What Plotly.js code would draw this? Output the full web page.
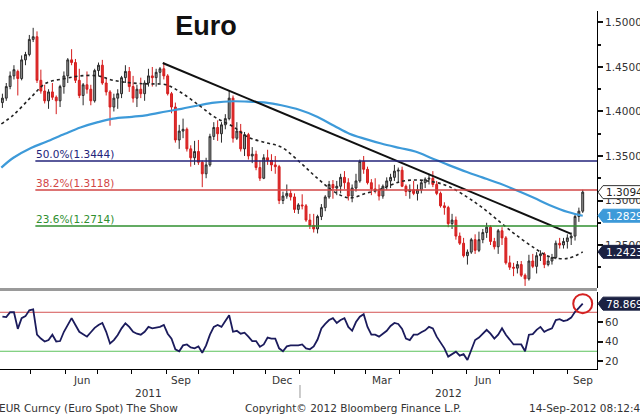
<!DOCTYPE html>
<html><head><meta charset="utf-8">
<script src="https://cdn.plot.ly/plotly-3.0.1.min.js"></script>
<style>html,body{margin:0;padding:0;background:#fff;}#chart{width:640px;height:420px;}</style>
</head><body><div id="chart"></div>
<script>
// ---- data (half-week candles, Mon-Wed / Thu-Fri) ----
const firstMonday = '2011-04-04';
const weekCount = 76;
const open = [
1.410,1.415,1.428,1.440,1.445,1.437,1.458,1.464,1.481,1.484,
1.435,1.423,1.412,1.422,1.416,1.412,1.428,1.440,1.458,1.455,
1.435,1.418,1.430,1.425,1.412,1.446,1.452,1.432,1.422,1.405,
1.415,1.420,1.438,1.445,1.428,1.415,1.425,1.420,1.432,1.440,
1.438,1.444,1.448,1.440,1.420,1.405,1.368,1.378,1.380,1.358,
1.348,1.355,1.343,1.330,1.340,1.372,1.382,1.375,1.385,1.392,
1.415,1.370,1.378,1.358,1.374,1.350,1.352,1.337,1.325,1.348,
1.345,1.340,1.338,1.300,1.305,1.308,1.304,1.290,1.295,1.294,
1.278,1.272,1.268,1.282,1.292,1.304,1.318,1.314,1.316,1.326,
1.320,1.305,1.314,1.322,1.344,1.335,1.320,1.313,1.312,1.305,
1.316,1.322,1.326,1.333,1.334,1.316,1.310,1.312,1.308,1.312,
1.320,1.324,1.325,1.318,1.308,1.294,1.292,1.274,1.278,1.260,
1.252,1.238,1.242,1.256,1.244,1.256,1.264,1.270,1.254,1.248,
1.266,1.258,1.230,1.225,1.224,1.228,1.216,1.212,1.232,1.226,
1.238,1.240,1.228,1.232,1.236,1.252,1.250,1.254,1.258,1.260,
1.282,1.288];
const high = [
1.420,1.432,1.445,1.452,1.447,1.463,1.467,1.486,1.494,1.490,
1.447,1.430,1.425,1.432,1.418,1.430,1.445,1.460,1.470,1.459,
1.448,1.432,1.445,1.430,1.448,1.455,1.458,1.438,1.424,1.420,
1.425,1.440,1.452,1.450,1.440,1.430,1.438,1.435,1.448,1.450,
1.448,1.450,1.455,1.442,1.422,1.410,1.385,1.392,1.382,1.362,
1.367,1.368,1.345,1.348,1.375,1.388,1.390,1.388,1.397,1.424,
1.418,1.388,1.386,1.377,1.376,1.360,1.356,1.345,1.352,1.357,
1.352,1.350,1.340,1.310,1.318,1.312,1.308,1.297,1.307,1.296,
1.285,1.285,1.284,1.296,1.306,1.322,1.323,1.322,1.330,1.333,
1.325,1.318,1.330,1.346,1.350,1.338,1.324,1.325,1.318,1.318,
1.326,1.330,1.340,1.337,1.338,1.318,1.318,1.322,1.318,1.322,
1.326,1.330,1.333,1.322,1.310,1.298,1.294,1.285,1.282,1.264,
1.258,1.245,1.258,1.262,1.265,1.268,1.275,1.272,1.258,1.268,
1.270,1.260,1.238,1.230,1.232,1.232,1.218,1.239,1.240,1.242,
1.244,1.242,1.238,1.240,1.255,1.258,1.258,1.262,1.264,1.284,
1.292,1.312];
const low = [
1.404,1.412,1.425,1.436,1.418,1.435,1.452,1.462,1.478,1.432,
1.420,1.409,1.403,1.413,1.397,1.405,1.420,1.432,1.452,1.432,
1.415,1.407,1.420,1.407,1.410,1.440,1.430,1.418,1.384,1.400,
1.403,1.415,1.432,1.422,1.410,1.405,1.415,1.412,1.428,1.428,
1.428,1.432,1.436,1.418,1.398,1.365,1.358,1.370,1.355,1.338,
1.340,1.340,1.315,1.325,1.338,1.368,1.367,1.365,1.380,1.390,
1.365,1.368,1.355,1.350,1.346,1.342,1.334,1.322,1.324,1.340,
1.333,1.330,1.296,1.296,1.302,1.300,1.286,1.285,1.290,1.276,
1.268,1.264,1.263,1.278,1.288,1.302,1.302,1.306,1.308,1.313,
1.300,1.298,1.310,1.320,1.330,1.318,1.306,1.308,1.300,1.302,
1.312,1.314,1.322,1.320,1.315,1.305,1.302,1.306,1.300,1.308,
1.314,1.318,1.315,1.306,1.292,1.284,1.270,1.268,1.256,1.250,
1.236,1.228,1.240,1.240,1.242,1.252,1.258,1.250,1.245,1.240,
1.250,1.228,1.222,1.215,1.218,1.214,1.204,1.210,1.224,1.218,
1.232,1.224,1.226,1.228,1.234,1.246,1.246,1.246,1.250,1.255,
1.276,1.286];
const close = [
1.415,1.428,1.440,1.447,1.437,1.458,1.464,1.481,1.484,1.435,
1.423,1.412,1.422,1.416,1.412,1.428,1.440,1.458,1.455,1.435,
1.418,1.430,1.425,1.412,1.446,1.452,1.432,1.422,1.405,1.415,
1.420,1.438,1.445,1.428,1.415,1.425,1.420,1.432,1.440,1.438,
1.444,1.448,1.440,1.420,1.405,1.368,1.378,1.380,1.358,1.348,
1.355,1.343,1.330,1.340,1.372,1.382,1.375,1.385,1.392,1.415,
1.370,1.378,1.358,1.374,1.350,1.352,1.337,1.325,1.348,1.345,
1.340,1.338,1.300,1.305,1.308,1.304,1.290,1.295,1.294,1.278,
1.272,1.268,1.282,1.292,1.304,1.318,1.314,1.316,1.326,1.320,
1.305,1.314,1.322,1.344,1.335,1.320,1.313,1.312,1.305,1.316,
1.322,1.326,1.333,1.334,1.316,1.310,1.312,1.308,1.312,1.320,
1.324,1.325,1.318,1.308,1.294,1.292,1.274,1.278,1.260,1.252,
1.238,1.242,1.256,1.244,1.256,1.264,1.270,1.254,1.248,1.266,
1.258,1.230,1.225,1.224,1.228,1.216,1.212,1.232,1.226,1.238,
1.240,1.228,1.232,1.236,1.252,1.250,1.254,1.258,1.260,1.282,
1.288,1.3094];
const rsi = [
65.5,65,70,70,53,64,66,72,73,47,
43,40,41.5,47,40,40.5,50,57,64,57,
50,47.5,45,49.5,54,57,59,50,38,41.5,
46.7,53.5,58.7,55,50,48,47,50,55,53.5,
54,55,57,48,43,32,30,36,37,34,
33,35,28.5,36,47,55,57,55,61,67,
50,51,48,49,45,40.5,40.5,34.7,37,44,
43,43,33,30,35,36,36,36,37,33,
32,35,42,53.5,58,62,64,59,62,64,
55,51,60,65.5,68,55,47,47,45,48,
51,56,59,58,53,43,41.5,47,47,49.5,
51.5,55,53.5,45,39,33,24.5,27,29.6,25.5,
27,21,31,41.5,44,48,52,48,43,47,
53.5,47,41.5,37,37,37,30,47,47.5,52,
55,50,52,53.5,62,63,61,62,64.5,70.5,
74.5,78.869];
const maDates = ['2011-04-04','2011-04-15','2011-05-01','2011-05-15','2011-06-01','2011-06-15',
'2011-07-01','2011-07-15','2011-08-01','2011-08-15','2011-09-01','2011-09-15','2011-10-01',
'2011-10-15','2011-11-01','2011-11-15','2011-12-01','2011-12-15','2012-01-01','2012-01-15',
'2012-02-01','2012-02-15','2012-03-01','2012-03-15','2012-04-01','2012-04-15','2012-05-01',
'2012-05-15','2012-06-01','2012-06-15','2012-07-01','2012-07-15','2012-08-01','2012-08-15',
'2012-09-01','2012-09-14 12:00'];
const ma200 = [1.337,1.348,1.359,1.366,1.375,1.382,1.388,1.392,1.394,1.396,1.400,1.403,1.407,
1.410,1.4115,1.411,1.410,1.407,1.4017,1.395,1.384,1.375,1.369,1.364,1.359,1.355,1.347,1.340,
1.332,1.326,1.319,1.312,1.303,1.295,1.287,1.2829];
const ma100 = [1.386,1.396,1.416,1.432,1.437,1.440,1.440,1.435,1.432,1.431,1.430,1.421,1.407,
1.394,1.383,1.371,1.365,1.360,1.343,1.327,1.310,1.303,1.308,1.313,1.321,1.323,1.321,1.316,
1.304,1.292,1.276,1.262,1.247,1.237,1.235,1.2423];
const trendDates = ['2011-08-29','2012-09-04'];
const trendValues = [1.4545, 1.2625];
const fibLevels = [1.3444, 1.3118, 1.2714];
const fibLabels = ['50.0%(1.3444)','38.2%(1.3118)','23.6%(1.2714)'];
const fibColors = ['#23237a','#d24646','#2f8f2f'];
const fibStart = '2011-05-05';
const monthLabelDates = ['2011-06-16','2011-09-15','2011-12-16','2012-03-16','2012-06-15','2012-09-15'];
const monthLabels = ['Jun','Sep','Dec','Mar','Jun','Sep'];
const yearLabelDates = ['2011-08-16','2012-05-15'];
const yearLabels = ['2011','2012'];
const yearBoundary = '2012-01-01';
const rsiLevels = [70, 30];
const rsiTicks = [20, 40, 60];
const xStart = '2011-04-02 19:00', xEnd = '2012-09-27 12:00';

// ---- dates for candles ----
const candleDates = [];
const base = Date.parse(firstMonday + 'T00:00:00Z');
const fmt = t => new Date(t).toISOString().slice(0,19).replace('T',' ');
for (let w = 0; w < weekCount; w++) {
  const mon = base + w*7*86400000;
  candleDates.push(fmt(mon + 1*86400000));
  candleDates.push(fmt(mon + 4.5*86400000));
}

const W = 640, H = 420, mR = 43, mB = 51;
const plotW = W - mR, plotH = H - mB;
const yMainDomain = [(plotH-288)/plotH, (plotH-11)/plotH];
const yMainRange = [1.20169, 1.5129];
const yRsiDomain = [0, (plotH-292)/plotH];
const yRsiRange = [11.8, 90.8];
const FONT = 'DejaVu Sans';
const py = px => (plotH - px)/plotH;   // pixel row -> paper y

const traces = [
  {type:'candlestick', x:candleDates, open, high, low, close, xaxis:'x', yaxis:'y',
   increasing:{line:{color:'#2a2a2a', width:1}, fillcolor:'#9a9a9a'},
   decreasing:{line:{color:'#d41c1c', width:1}, fillcolor:'#e23030'},
   whiskerwidth:0, hoverinfo:'skip'},
  {type:'scatter', mode:'lines', x:maDates, y:ma200, line:{color:'#3d9ad9', width:2.2, shape:'spline'}, hoverinfo:'skip'},
  {type:'scatter', mode:'lines', x:maDates, y:ma100, line:{color:'#222', width:1.6, dash:'dot', shape:'spline'}, hoverinfo:'skip'},
  {type:'scatter', mode:'lines', x:trendDates, y:trendValues, line:{color:'#111', width:2}, hoverinfo:'skip'},
  {type:'scatter', mode:'lines', x:candleDates, y:rsi, xaxis:'x', yaxis:'y2', line:{color:'#1b1b5c', width:1.8}, hoverinfo:'skip'}
];

const shapes = [];
const annotations = [];
fibLevels.forEach((lv,i) => {
  shapes.push({type:'line', xref:'x', yref:'y', x0:fibStart, x1:xEnd, y0:lv, y1:lv, line:{color:fibColors[i], width:1.5}, layer:'above'});
  annotations.push({xref:'x', yref:'y', x:fibStart, y:lv, xanchor:'left', yanchor:'bottom', text:fibLabels[i], showarrow:false, borderpad:0, font:{family:FONT, size:10.5, color:fibColors[i]}});
});
const rsiColors = ['#d45454','#5cc25c'];
rsiLevels.forEach((lv,i) => shapes.push({type:'line', xref:'x', yref:'y2', x0:xStart, x1:xEnd, y0:lv, y1:lv, line:{color:rsiColors[i], width:1}, layer:'below'}));
// panel separator
shapes.push({type:'line', xref:'paper', yref:'paper', x0:0, x1:1, y0:py(289.5), y1:py(289.5), line:{color:'#9a9a9a', width:3}});
// year boundary
shapes.push({type:'line', xref:'x', yref:'paper', x0:yearBoundary, x1:yearBoundary, y0:py(385), y1:py(398), line:{color:'#999', width:1}});
// RSI circle
const lastDateMs = Date.parse(candleDates[candleDates.length-1].replace(' ','T')+'Z');
const lastRsi = rsi[rsi.length-1];
const rsiPx = (yRsiDomain[1]-yRsiDomain[0])*plotH/(yRsiRange[1]-yRsiRange[0]);
const dayPx = plotW/((Date.parse(xEnd.replace(' ','T')+':00Z')-Date.parse(xStart.replace(' ','T')+':00Z'))/86400000);
const rad = 9.5;
shapes.push({type:'circle', xref:'x', yref:'y2', x0:fmt(lastDateMs - rad/dayPx*86400000), x1:fmt(lastDateMs + rad/dayPx*86400000),
  y0:lastRsi - rad/rsiPx, y1:lastRsi + rad/rsiPx, line:{color:'#d42020', width:2}});

// right-hand value tags
const pricePx = (yMainDomain[1]-yMainDomain[0])*plotH/(yMainRange[1]-yMainRange[0]);
function tag(value, yref, pxu, fill, border, txtColor, text) {
  const h = 6.5/pxu, tip = 598/plotW, b0 = 603/plotW, b1 = 660/plotW;
  shapes.push({type:'path', xref:'paper', yref, layer:'above',
    path:`M${tip},${value} L${b0},${value+h} L${b1},${value+h} L${b1},${value-h} L${b0},${value-h} Z`,
    fillcolor:fill, line:{color:border, width:1}});
  annotations.push({xref:'paper', yref, x:604/plotW, y:value, xanchor:'left', yanchor:'middle', text, showarrow:false,
    font:{family:FONT, size:10.5, color:txtColor}});
}
tag(close[close.length-1], 'y', pricePx, '#ffffff', '#333', '#222', close[close.length-1].toFixed(4));
tag(ma200[ma200.length-1], 'y', pricePx, '#3d9ad9', '#3d9ad9', '#fff', ma200[ma200.length-1].toFixed(4));
tag(ma100[ma100.length-1], 'y', pricePx, '#1b2142', '#1b2142', '#fff', ma100[ma100.length-1].toFixed(4));
tag(lastRsi, 'y2', rsiPx, '#1b2142', '#1b2142', '#fff', lastRsi.toFixed(3));

monthLabels.forEach((t,i) => annotations.push({xref:'x', yref:'paper', x:monthLabelDates[i], y:py(380), xanchor:'center', yanchor:'middle', text:t, showarrow:false, font:{family:FONT, size:10.5, color:'#333'}}));
yearLabels.forEach((t,i) => annotations.push({xref:'x', yref:'paper', x:yearLabelDates[i], y:py(393), xanchor:'center', yanchor:'middle', text:t, showarrow:false, font:{family:FONT, size:10.5, color:'#333'}}));
const footY = py(408);
annotations.push({xref:'paper', yref:'paper', x:0, xshift:-3, y:footY, xanchor:'left', yanchor:'middle', text:'EUR Curncy (Euro Spot) The Show', showarrow:false, font:{family:FONT, size:10.5, color:'#333'}});
annotations.push({xref:'paper', yref:'paper', x:243/plotW, y:footY, xanchor:'left', yanchor:'middle', text:'Copyright© 2012 Bloomberg Finance L.P.', showarrow:false, font:{family:FONT, size:10.5, color:'#333'}});
annotations.push({xref:'paper', yref:'paper', x:527/plotW, y:footY, xanchor:'left', yanchor:'middle', text:'14-Sep-2012 08:12:46', showarrow:false, font:{family:FONT, size:10.5, color:'#333'}});

const layout = {
  width:W, height:H, margin:{l:0, r:mR, t:0, b:mB, pad:0},
  paper_bgcolor:'#fff', plot_bgcolor:'#fff', showlegend:false,
  font:{family:FONT, size:11, color:'#333'},
  title:{text:'<b>Euro</b>', font:{family:'Liberation Sans', size:27, color:'#111'}, xref:'container', x:206/W, xanchor:'center', yref:'container', y:1-25.5/H, yanchor:'middle'},
  xaxis:{type:'date', range:[xStart, xEnd], anchor:'y2', showgrid:false, zeroline:false, showline:true, linecolor:'#000', linewidth:1,
    tickmode:'linear', tick0:'2011-04-01', dtick:'M1', ticks:'outside', ticklen:4, tickcolor:'#000', showticklabels:false,
    rangeslider:{visible:false}, fixedrange:true},
  yaxis:{domain:yMainDomain, range:yMainRange, side:'right', anchor:'x', showgrid:false, zeroline:false, showline:true, linecolor:'#000', linewidth:1,
    tickmode:'linear', tick0:1.25, dtick:0.05, tickformat:'.4f', ticks:'outside', ticklen:5, tickwidth:2, tickcolor:'#111',
    minor:{dtick:0.025, tick0:1.25, ticks:'outside', ticklen:3, tickcolor:'#111'},
    tickfont:{family:FONT, size:10.5, color:'#333'}, fixedrange:true},
  yaxis2:{domain:yRsiDomain, range:yRsiRange, side:'right', anchor:'x', showgrid:false, zeroline:false, showline:true, linecolor:'#000', linewidth:1,
    tickmode:'array', tickvals:rsiTicks, ticks:'outside', ticklen:5, tickwidth:2, tickcolor:'#111',
    tickfont:{family:FONT, size:10.5, color:'#333'}, fixedrange:true},
  shapes, annotations
};
Plotly.newPlot('chart', traces, layout, {staticPlot:true, displayModeBar:false});
</script></body></html>
